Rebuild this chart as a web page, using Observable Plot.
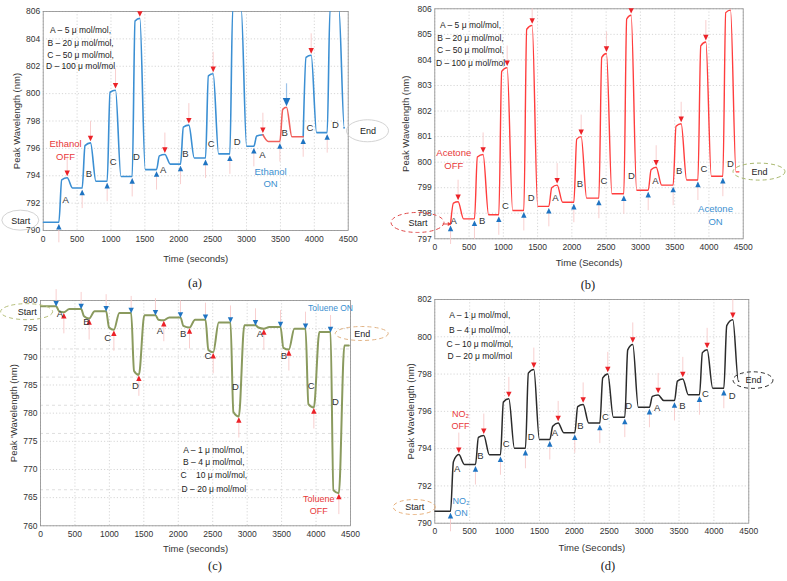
<!DOCTYPE html>
<html><head><meta charset="utf-8">
<script src="https://cdn.jsdelivr.net/npm/d3@7"></script>
<script src="https://cdn.jsdelivr.net/npm/@observablehq/plot@0.6"></script>
<style>
html,body{margin:0;padding:0;background:#fff}
#root{position:relative;width:787px;height:581px;overflow:hidden;font-family:"Liberation Sans",Arial,sans-serif}
.panel{position:absolute}
.panel svg{overflow:visible}
.cap{position:absolute;transform:translate(-50%,-50%);font-family:"Liberation Serif","Times New Roman",serif;font-size:12.5px;color:#222}
</style></head><body><div id="root">
<div id="pa" class="panel" style="left:0;top:0"></div>
<div id="pb" class="panel" style="left:390px;top:0"></div>
<div id="pc" class="panel" style="left:0;top:290px"></div>
<div id="pd" class="panel" style="left:390px;top:290px"></div>
<div class="cap" style="left:195px;top:283px">(a)</div>
<div class="cap" style="left:588px;top:285px">(b)</div>
<div class="cap" style="left:215px;top:566px">(c)</div>
<div class="cap" style="left:608px;top:566px">(d)</div>
</div>
<script>
// ---------------- shared ----------------
const timeTicks = [0, 500, 1000, 1500, 2000, 2500, 3000, 3500, 4000, 4500];
const letterNames = ["A","B","C","D","A","B","C","D","A","B","C","D"];

// ---------------- (a) Ethanol ----------------
const onA   = [231, 575, 944, 1313, 1672, 2026, 2395, 2754, 3108, 3492, 3836, 4190];
const offA  = [354, 698, 1067, 1426, 1795, 2149, 2508, 2921, 3241, 3590, 3954, 4362];
const baseA = [790.6, 793.1, 793.6, 793.95, 794.45, 794.85, 795.3, 795.6, 796.15, 796.5, 796.85, 797.15, 797.5];
const platA = [793.7, 796.2, 800.1, 805.3, 795.45, 797.55, 801.3, 806.2, 796.9, 798.85, 802.65, 806.2];
const peakA = [793.85, 796.4, 800.25, 805.5, 795.55, 797.7, 801.45, 806.2, 797.0, 799.0, 802.8, 806.2];
const spanA = [0, 4436];
const redSpanA = [3241, 3836];
const blueOffA = [3590];
const letterTA = [330, 674, 1033, 1377, 1770, 2100, 2479, 2862, 3236, 3561, 3934, 4313];
const letterVA = [792.2, 794.1, 795.0, 795.4, 794.4, 795.6, 796.3, 796.5, 795.5, 797.1, 797.5, 797.7];
const legendA = ["A – 5 μ mol/mol,", "B – 20 μ mol/mol,", "C – 50 μ mol/mol,", "D – 100 μ mol/mol"];
const legendTA = 551;
const legendVA = [804.66, 803.7, 802.8, 801.98];
const yTicksA = [790, 792, 794, 796, 798, 800, 802, 804, 806];
const offNoteA = {s: "Ethanol\nOFF", t: 330, v: 795.92};
const onNoteA = {s: "Ethanol\nON", t: 3354, v: 793.92};
const startPosA = [-330, 790.72];
const endPosA = [4792, 797.25];

// ---------------- (b) Acetone ----------------
const onB   = [230, 579, 934, 1299, 1664, 2029, 2394, 2758, 3114, 3478, 3839, 4203];
const offB  = [340, 705, 1056, 1421, 1785, 2136, 2505, 2865, 3230, 3595, 3955, 4315];
const baseB = [797.58, 797.78, 797.94, 798.11, 798.27, 798.43, 798.59, 798.76, 798.9, 799.1, 799.3, 799.45, 799.62];
const platB = [798.4, 800.2, 803.55, 805.2, 799.0, 800.9, 804.1, 805.6, 799.7, 801.4, 804.55, 805.85];
const peakB = [798.45, 800.3, 803.7, 805.35, 799.1, 801.0, 804.25, 805.75, 799.8, 801.5, 804.7, 805.95];
const spanB = [230, 4437];
const letterTB = [277, 691, 1031, 1406, 1761, 2116, 2467, 2870, 3221, 3566, 3926, 4315];
const letterVB = [797.7, 797.7, 798.28, 798.6, 798.6, 799.15, 799.28, 799.45, 799.28, 799.65, 799.74, 799.93];
const legendB = ["A – 5 μ mol/mol,", "B – 20 μ mol/mol,", "C – 50 μ mol/mol,", "D – 100 μ mol/mol"];
const legendTB = 521;
const legendVB = [805.35, 804.85, 804.37, 803.87];
const yTicksB = [797, 798, 799, 800, 801, 802, 803, 804, 805, 806];
const offNoteB = {s: "Acetone\nOFF", t: 277, v: 800.16};
const onNoteB = {s: "Acetone\nON", t: 4096, v: 797.95};
const startPosB = [-245, 797.62];
const endPosB = [4738, 799.61];
const startArrowB = [120, 226, 797.58];

// ---------------- (c) Toluene ----------------
const onC   = [227, 590, 953, 1316, 1669, 2032, 2395, 2758, 3121, 3484, 3847, 4210];
const offC  = [339, 706, 1065, 1428, 1790, 2163, 2507, 2879, 3242, 3605, 3968, 4331];
const baseC = [799.0, 798.5, 798.1, 797.8, 797.4, 797.0, 796.6, 796.1, 795.6, 795.3, 795.0, 794.4, 792.0];
const platC = [798.1, 797.2, 795.2, 787.5, 796.6, 795.5, 791.2, 780.2, 795.2, 791.6, 781.6, 766.3];
const peakC = [797.9, 796.8, 794.8, 786.8, 796.5, 795.2, 790.8, 779.4, 795.0, 791.3, 781.0, 765.8];
const spanC = [0, 4476];
const letterTC = [281, 668, 977, 1379, 1732, 2071, 2429, 2831, 3184, 3532, 3929, 4282];
const letterVC = [797.6, 796.2, 793.3, 784.9, 794.6, 794.0, 790.2, 784.6, 794.1, 790.1, 784.8, 782.0];
const legendC = ["A – 1 μ mol/mol,", "B – 4 μ mol/mol,", "C    10 μ mol/mol,", "D – 20 μ mol/mol"];
const legendTC = 2516;
const legendVC = [773.37, 771.3, 768.94, 766.57];
const yTicksC = [760, 765, 770, 775, 780, 785, 790, 795, 800];
const extraGridC = [791.4, 786.4, 781.4, 776.4, 766.4];
const onNoteC = {s: "Toluene ON", t: 4210, v: 798.8};
const offNoteC = {s: "Toluene\nOFF", t: 4040, v: 763.85};
const startPosC = [-194, 797.93];
const endPosC = [4670, 794.05];

// ---------------- (d) NO2 ----------------
const onD   = [225, 583, 941, 1299, 1648, 2006, 2365, 2723, 3076, 3435, 3793, 4142];
const offD  = [344, 702, 1061, 1419, 1768, 2126, 2479, 2837, 3201, 3554, 3903, 4271];
const baseD = [790.64, 793.15, 793.67, 794.02, 794.49, 794.85, 795.37, 795.69, 796.22, 796.58, 796.89, 797.24, 797.62];
const platD = [793.3, 794.6, 796.5, 798.05, 795.2, 796.25, 797.8, 799.3, 796.8, 797.62, 799.15, 800.6];
const peakD = [793.68, 794.7, 796.67, 798.24, 795.38, 796.37, 798.01, 799.59, 796.88, 797.74, 799.3, 800.91];
const spanD = [0, 4355];
const letterTD = [320, 654, 1022, 1380, 1720, 2088, 2446, 2780, 3186, 3549, 3879, 4261];
const letterVD = [792.9, 793.6, 794.25, 794.6, 794.85, 795.24, 795.7, 796.3, 796.17, 796.28, 796.94, 796.85];
const legendD = ["A – 1 μ mol/mol,", "B – 4 μ mol/mol,", "C – 10 μ mol/mol,", "D – 20 μ mol/mol"];
const legendTD = 645;
const legendVD = [801.14, 800.37, 799.62, 798.98];
const yTicksD = [790, 792, 794, 796, 798, 800, 802];
const offNoteD = {s: "NO₂\nOFF", t: 368, v: 795.6};
const onNoteD = {s: "NO₂\nON", t: 377, v: 790.91};
const startPosD = [-288, 790.84];
const endPosD = [4567, 797.65];

// ---------------- helpers ----------------
const FONT = '"Liberation Sans", Arial, Helvetica, sans-serif';
const ON_BLUE = "#1f74c2", OFF_RED = "#ec2228", STEM = "#f7c9c9";
const NOTE_BLUE = "#3b8fd0", NOTE_RED = "#e8383a";
const DR = 42, DF = 80; // rise / fall shaping (seconds)

function buildPath(span, on, off, base, plat, peak) {
  const pts = [];
  if (span[0] < on[0]) pts.push({t: span[0], v: base[0]});
  on.forEach((t, i) => {
    pts.push({t, v: base[i]}, {t: t + DR, v: plat[i]}, {t: off[i], v: peak[i]}, {t: off[i] + DF, v: base[i + 1]});
  });
  pts.push({t: span[1], v: base[base.length - 1]});
  return pts;
}
const triUp = {draw(c){c.moveTo(0,-3.4);c.lineTo(2.7,2.2);c.lineTo(-2.7,2.2);c.closePath();}};
const triDown = {draw(c){c.moveTo(0,3.4);c.lineTo(2.7,-2.2);c.lineTo(-2.7,-2.2);c.closePath();}};
const bigDown = {draw(c){c.moveTo(0,5);c.lineTo(3.8,-3.2);c.lineTo(-3.8,-3.2);c.closePath();}};
const stem = (up, down) => ({draw(c){c.moveTo(0,-up);c.lineTo(0,down);}});

function markers(onPts, offPts, inverted) {
  const st = {stroke: STEM, strokeWidth: 0.9, fill: "none"};
  if (!inverted) return [
    Plot.dot(onPts, {x: "t", y: "v", symbol: stem(3, 15), ...st, dy: 5}),
    Plot.dot(offPts, {x: "t", y: "v", symbol: stem(17, 2), ...st, dy: -5, clip: true}),
    Plot.dot(onPts, {x: "t", y: "v", symbol: triUp, fill: ON_BLUE, stroke: "none", dy: 5}),
    Plot.dot(offPts, {x: "t", y: "v", symbol: triDown, fill: OFF_RED, stroke: "none", dy: -5, clip: true})
  ];
  return [
    Plot.dot(onPts, {x: "t", y: "v", symbol: stem(14, 2), ...st, dy: -3}),
    Plot.dot(offPts, {x: "t", y: "v", symbol: stem(2, 17), ...st, dy: 4}),
    Plot.dot(onPts, {x: "t", y: "v", symbol: triDown, fill: ON_BLUE, stroke: "none", dy: -3}),
    Plot.dot(offPts, {x: "t", y: "v", symbol: triUp, fill: OFF_RED, stroke: "none", dy: 4})
  ];
}
function letterMarks(ts, vs) {
  return Plot.text(letterNames, {x: (d, i) => ts[i], y: (d, i) => vs[i], text: d => d, fontSize: 9.5, fill: "#333"});
}
function legendMarks(lines, t, vs) {
  return Plot.text(lines, {x: () => t, y: (d, i) => vs[i], text: d => d, fontSize: 8.5, fill: "#222", textAnchor: "middle"});
}
function noteMark(n, color, size) {
  return Plot.text([n], {x: "t", y: "v", text: "s", fill: color, fontSize: size || 9, lineHeight: 1.35, textAnchor: "middle"});
}
function tagMark(pos, s) {
  return Plot.text([pos], {x: d => d[0], y: d => d[1], text: () => s, fontSize: 9, fill: "#222"});
}

function drawPanel(p) {
  const X0 = p.ml, X1 = p.width - p.mr, Y0 = p.height - p.mb, Y1 = p.mt;
  const marks = [
    Plot.ruleY(p.yTicks, {stroke: "#d6d6d6", strokeDasharray: "1.2,2"}),
    Plot.ruleX(timeTicks, {stroke: "#d6d6d6", strokeDasharray: "1.2,2"}),
    Plot.ruleY(p.extraGrid || [], {stroke: "#dedede", strokeDasharray: "3,3"}),
    Plot.frame({stroke: "#8c8c8c", strokeWidth: 0.8}),
    ...p.marks,
    Plot.text([p.xLabel], {text: d => d, frameAnchor: "bottom", lineAnchor: "middle", dy: p.xLabelOff, fontSize: 9.5, fill: "#333"}),
    Plot.text([p.yLabel], {text: d => d, frameAnchor: "left", textAnchor: "middle", lineAnchor: "middle", rotate: -90, dx: p.yLabelOff, fontSize: 9.5, fill: "#333"})
  ];
  const svg = Plot.plot({
    width: p.width, height: p.height,
    marginLeft: p.ml, marginRight: p.mr, marginTop: p.mt, marginBottom: p.mb,
    style: {fontFamily: FONT, fontSize: "8.5px", color: "#333", background: "none", overflow: "visible"},
    x: {domain: [0, 4500], ticks: timeTicks, tickFormat: d3.format("d"), tickSize: 0, tickPadding: 5, label: null},
    y: {domain: p.yDomain, ticks: p.yTicks, tickFormat: d3.format("d"), tickSize: 0, tickPadding: 3, label: null},
    marks
  });
  let fx, fy;
  try { fx = svg.scale("x").apply; fy = svg.scale("y").apply; } catch (e) {}
  if (typeof fx !== "function" || typeof fy !== "function") {
    fx = d3.scaleLinear([0, 4500], [X0, X1]);
    fy = d3.scaleLinear(p.yDomain, [Y0, Y1]);
  }
  const g = d3.select(svg).append("g").attr("fill", "none");
  p.ellipses.forEach(e => g.append("ellipse")
    .attr("cx", fx(e.pos[0])).attr("cy", fy(e.pos[1]))
    .attr("rx", e.rx).attr("ry", e.ry)
    .attr("stroke", e.stroke).attr("stroke-width", e.w || 1)
    .attr("stroke-dasharray", e.dash || null));
  document.getElementById(p.el).appendChild(svg);
}

// ---------------- panel (a) ----------------
{
  const pts = buildPath(spanA, onA, offA, baseA, platA, peakA);
  const blue = [], red = [];
  pts.forEach(q => {
    if (q.t <= redSpanA[0]) blue.push({...q, g: 0});
    if (q.t >= redSpanA[0] && q.t <= redSpanA[1]) red.push(q);
    if (q.t >= redSpanA[1]) blue.push({...q, g: 1});
  });
  const onPts = onA.map((t, i) => ({t, v: baseA[i]}));
  const offAll = offA.map((t, i) => ({t, v: peakA[i]}));
  const offPts = offAll.filter(d => !blueOffA.includes(d.t));
  const offBlue = offAll.filter(d => blueOffA.includes(d.t));
  drawPanel({
    el: "pa", width: 390, height: 270, ml: 42.7, mr: 42.3, mt: 11, mb: 40,
    yDomain: [790, 806], yTicks: yTicksA,
    xLabel: "Time (seconds)", yLabel: "Peak Wavelength (nm)", xLabelOff: 28, yLabelOff: -26,
    marks: [
      Plot.line(blue, {x: "t", y: "v", z: "g", stroke: "#3b8fd3", strokeWidth: 1.6, curve: "monotone-x", clip: true}),
      Plot.line(red, {x: "t", y: "v", stroke: "#f0605c", strokeWidth: 1.6, curve: "monotone-x", clip: true}),
      ...markers(onPts, offPts, false),
      Plot.dot(offBlue, {x: "t", y: "v", symbol: stem(18, 0), stroke: "#9cc2e8", strokeWidth: 1.2, fill: "none", dy: -6}),
      Plot.dot(offBlue, {x: "t", y: "v", symbol: bigDown, fill: ON_BLUE, stroke: "none", dy: -6}),
      letterMarks(letterTA, letterVA),
      legendMarks(legendA, legendTA, legendVA),
      noteMark(offNoteA, NOTE_RED, 9.5),
      noteMark(onNoteA, NOTE_BLUE, 9.5),
      tagMark(startPosA, "Start"),
      tagMark(endPosA, "End")
    ],
    ellipses: [
      {pos: startPosA, rx: 18.5, ry: 10, stroke: "#c8c8c8", w: 0.8},
      {pos: endPosA, rx: 21, ry: 11, stroke: "#c8c8c8", w: 0.8}
    ]
  });
}

// ---------------- panel (b) ----------------
{
  const pts = buildPath(spanB, onB, offB, baseB, platB, peakB);
  const onPts = onB.map((t, i) => ({t, v: baseB[i]}));
  const offPts = offB.map((t, i) => ({t, v: peakB[i]}));
  drawPanel({
    el: "pb", width: 397, height: 275, ml: 44.3, mr: 44.3, mt: 8.3, mb: 36.7,
    yDomain: [797, 806], yTicks: yTicksB,
    xLabel: "Time (Seconds)", yLabel: "Peak Wavelength (nm)", xLabelOff: 24, yLabelOff: -29,
    marks: [
      Plot.line(pts, {x: "t", y: "v", stroke: "#ff3d3d", strokeWidth: 1.4, curve: "monotone-x", clip: true}),
      Plot.arrow([startArrowB], {x1: d => d[0], x2: d => d[1], y1: d => d[2], y2: d => d[2], stroke: "#e8403c", strokeWidth: 1.2, headLength: 5}),
      ...markers(onPts, offPts, false),
      letterMarks(letterTB, letterVB),
      legendMarks(legendB, legendTB, legendVB),
      noteMark(offNoteB, NOTE_RED, 9.5),
      noteMark(onNoteB, NOTE_BLUE, 9.5),
      tagMark(startPosB, "Start"),
      tagMark(endPosB, "End")
    ],
    ellipses: [
      {pos: startPosB, rx: 26.5, ry: 10, stroke: "#e04a4a", w: 1, dash: "4,3"},
      {pos: endPosB, rx: 26, ry: 8.5, stroke: "#a9b86e", w: 1, dash: "4,3"}
    ]
  });
}

// ---------------- panel (c) ----------------
{
  const pts = buildPath(spanC, onC, offC, baseC, platC, peakC);
  const onPts = onC.map((t, i) => ({t, v: baseC[i]}));
  const offPts = offC.map((t, i) => ({t, v: peakC[i]}));
  drawPanel({
    el: "pc", width: 390, height: 270, ml: 40, mr: 40, mt: 10, mb: 34.7,
    yDomain: [760, 800], yTicks: yTicksC, extraGrid: extraGridC,
    xLabel: "Time (seconds)", yLabel: "Peak 'Wavelength (nm)", xLabelOff: 23, yLabelOff: -27,
    marks: [
      Plot.line(pts, {x: "t", y: "v", stroke: "#8a9a5e", strokeWidth: 2, curve: "monotone-x", clip: true}),
      ...markers(onPts, offPts, true),
      letterMarks(letterTC, letterVC),
      legendMarks(legendC, legendTC, legendVC),
      noteMark(onNoteC, NOTE_BLUE, 8.5),
      noteMark(offNoteC, NOTE_RED, 9),
      tagMark(startPosC, "Start"),
      tagMark(endPosC, "End")
    ],
    ellipses: [
      {pos: startPosC, rx: 26, ry: 8, stroke: "#b7c07c", w: 1, dash: "4,3"},
      {pos: endPosC, rx: 26.5, ry: 7, stroke: "#e2b486", w: 1, dash: "4,3"}
    ]
  });
}

// ---------------- panel (d) ----------------
{
  const pts = buildPath(spanD, onD, offD, baseD, platD, peakD);
  const onPts = onD.map((t, i) => ({t, v: baseD[i]}));
  const offPts = offD.map((t, i) => ({t, v: peakD[i]}));
  drawPanel({
    el: "pd", width: 397, height: 270, ml: 44.3, mr: 38.7, mt: 9, mb: 37.3,
    yDomain: [790, 802], yTicks: yTicksD,
    xLabel: "Time (Seconds)", yLabel: "Peak Wavelength (nm)", xLabelOff: 25, yLabelOff: -24,
    marks: [
      Plot.line(pts, {x: "t", y: "v", stroke: "#2b2b2b", strokeWidth: 1.5, curve: "monotone-x", clip: true}),
      ...markers(onPts, offPts, false),
      letterMarks(letterTD, letterVD),
      legendMarks(legendD, legendTD, legendVD),
      noteMark(offNoteD, NOTE_RED, 9),
      noteMark(onNoteD, NOTE_BLUE, 9),
      tagMark(startPosD, "Start"),
      tagMark(endPosD, "End")
    ],
    ellipses: [
      {pos: startPosD, rx: 21, ry: 7.5, stroke: "#e8b07a", w: 1, dash: "4,3"},
      {pos: endPosD, rx: 20, ry: 8.3, stroke: "#333", w: 1, dash: "4,3"}
    ]
  });
}
</script>
</body></html>
